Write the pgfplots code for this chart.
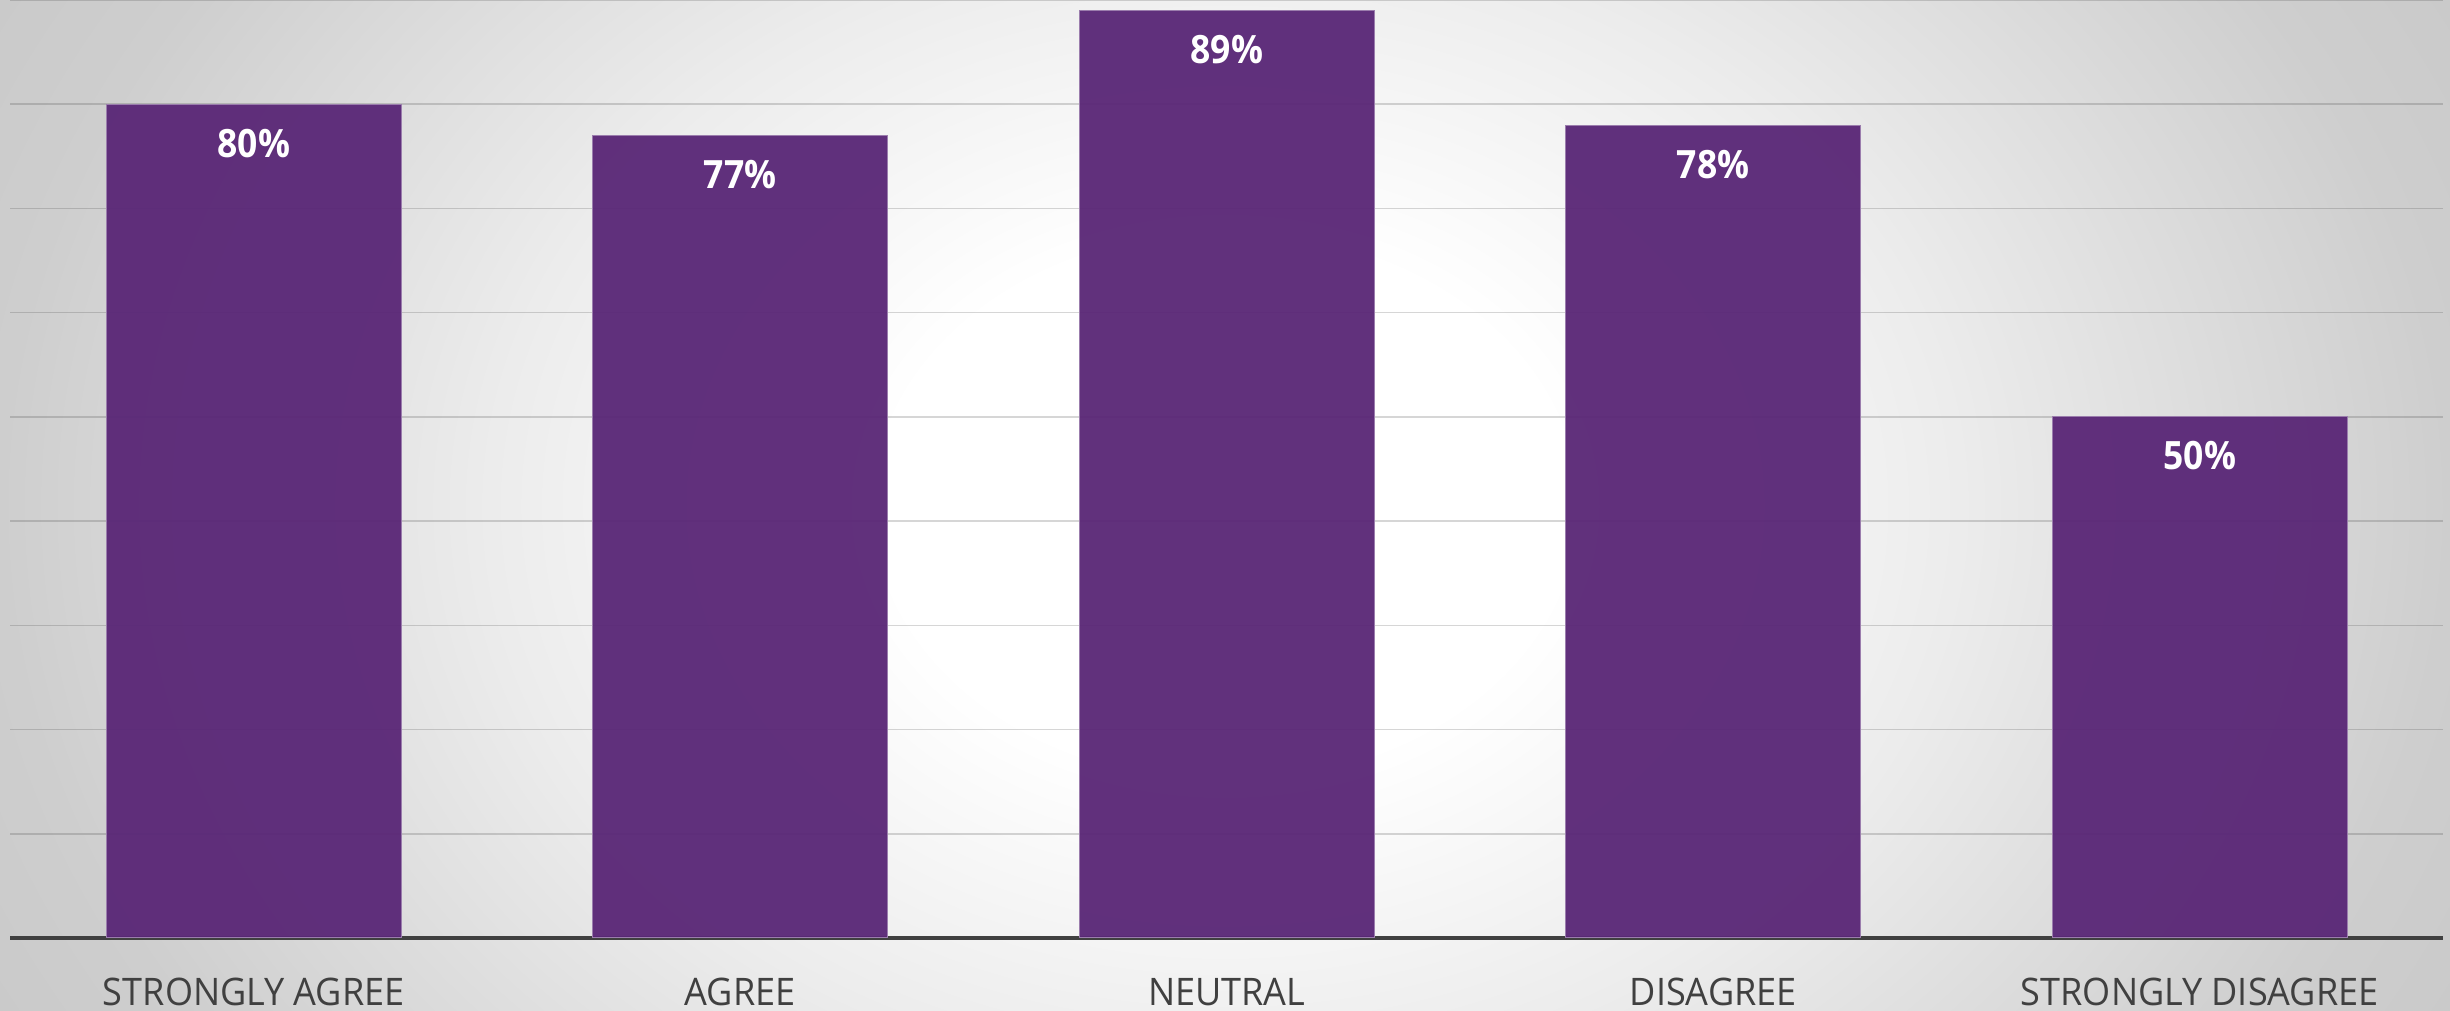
\documentclass[border=0pt]{standalone}
\usepackage{pgfplots}
\pgfplotsset{compat=1.18}
\usepackage{fontspec}
\setmainfont{Open Sans}
\newfontfamily\tickfont[FakeStretch=0.95]{Open Sans}
\newfontfamily\labelfont[FakeStretch=0.91]{Open Sans Bold}

\definecolor{barpurple}{RGB}{89,38,118}
\definecolor{textgray}{RGB}{64,64,64}
\definecolor{bgmid}{RGB}{236,236,236}
\definecolor{bgedge}{RGB}{206,206,206}
\definecolor{bgcorner}{RGB}{194,194,194}

\pgfdeclareradialshading{bgshade}{\pgfpoint{0bp}{0bp}}{%
  color(0bp)=(white); color(7bp)=(white); color(15bp)=(bgmid);
  color(25bp)=(bgedge); color(35bp)=(bgcorner); color(50bp)=(bgcorner)}

\begin{document}
\begin{tikzpicture}
  % page = 245mm x 101.1mm (1px of the reference = 0.1mm)
  \path[use as bounding box] (0,0) rectangle (245mm,101.1mm);
  \begin{scope}
    \clip (0,0) rectangle (245mm,101.1mm);
    \shade[shading=bgshade] (0,-45mm) rectangle (245mm,146mm);
  \end{scope}
  \begin{axis}[
    at={(1.05mm,7.3mm)}, anchor=south west,
    scale only axis,
    width=243.25mm, height=93.8mm,
    xmin=-0.5, xmax=4.5,
    ymin=0, ymax=90,
    axis x line*=bottom,
    axis y line*=left,
    y axis line style={draw=none},
    x axis line style={draw=textgray, line width=1.15pt, -},
    tick style={draw=none},
    xtick={0,1,2,3,4},
    xticklabels={STRONGLY AGREE, AGREE, NEUTRAL, DISAGREE, STRONGLY DISAGREE},
    xticklabel style={font=\tickfont\fontsize{10.8}{13}\selectfont, text=textgray,
      anchor=base, yshift=-5.25mm},
    ytick={10,20,...,90},
    yticklabels={},
    ymajorgrids,
    grid style={draw=black!80, draw opacity=0.2, line width=0.45pt},
    ybar,
    bar width=29.5mm,
    point meta=explicit symbolic,
    nodes near coords,
    nodes near coords style={font=\labelfont\fontsize{11.1}{13}\selectfont,
      text=white, anchor=base, yshift=-5.3mm},
  ]
    \addplot[fill=barpurple, fill opacity=0.95, draw=barpurple!60!white,
      line width=0.3pt, text opacity=1]
    coordinates {
      (0,80) [80\%]
      (1,77) [77\%]
      (2,89) [89\%]
      (3,78) [78\%]
      (4,50) [50\%]
    };
  \end{axis}
\end{tikzpicture}
\end{document}
